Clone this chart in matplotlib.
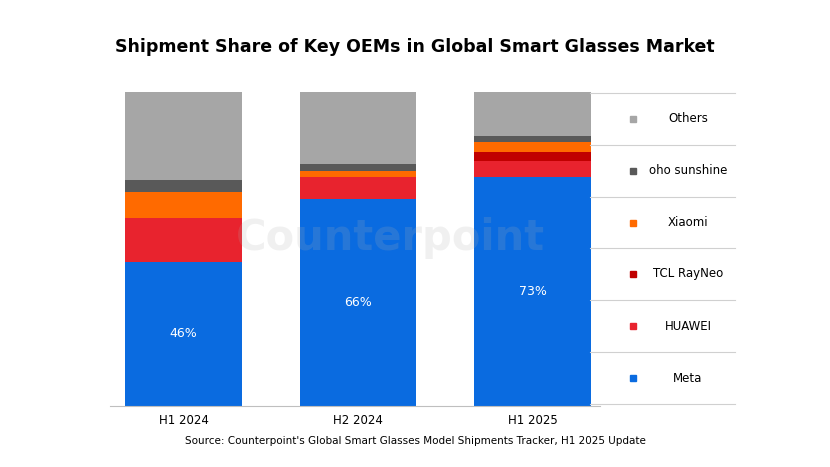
import matplotlib
matplotlib.use("Agg")
import matplotlib.pyplot as plt

periods = ["H1 2024", "H2 2024", "H1 2025"]
meta = [46, 66, 73]
huawei = [14, 7, 5]
tcl = [0, 0, 3]
xiaomi = [8, 2, 3]
oho = [4, 2, 2]
others = [28, 23, 14]

series = [("Meta", meta, "#0A6BE0"), ("HUAWEI", huawei, "#E8232E"),
          ("TCL RayNeo", tcl, "#C00000"), ("Xiaomi", xiaomi, "#FF6A00"),
          ("oho sunshine", oho, "#595959"), ("Others", others, "#A6A6A6")]

fig = plt.figure(figsize=(8.30, 4.67), dpi=100)
ax = fig.add_axes([110 / 830, 61 / 467, 490 / 830, 314 / 467])
x = range(len(periods))
bottom = [0] * 3
for name, vals, col in series:
    ax.bar(x, vals, bottom=bottom, width=0.67, color=col)
    bottom = [b + v for b, v in zip(bottom, vals)]
for i, v in enumerate(meta):
    ax.text(i, v / 2, f"{v}%", ha="center", va="center", color="white", fontsize=9)
ax.set_ylim(0, 100)
ax.set_xlim(-0.421, 2.387)
ax.set_xticks(list(x))
ax.set_xticklabels(periods, fontsize=8.5)
ax.set_yticks([])
for s in ["top", "left", "right"]:
    ax.spines[s].set_visible(False)
ax.spines["bottom"].set_color("#BFBFBF")
ax.tick_params(axis="x", length=0, pad=6)

fig.text(0.5, 0.9, "Shipment Share of Key OEMs in Global Smart Glasses Market",
         ha="center", va="center", fontsize=12.5, fontweight="bold")
fig.text(0.5, 0.055, "Source: Counterpoint's Global Smart Glasses Model Shipments Tracker, H1 2025 Update",
         ha="center", va="center", fontsize=7.5)
fig.text(0.47, 0.49, "Counterpoint", ha="center", va="center", fontsize=30,
         fontweight="bold", color="#B0B0B0", alpha=0.18)

# legend panel
lx0, lx1 = 590 / 830, 735 / 830
ys = [93, 145, 197, 248, 300, 352, 404]
for y in ys:
    fig.add_artist(plt.Line2D([lx0, lx1], [1 - y / 467] * 2, color="#D0D0D0", lw=0.8))
for i, (name, vals, col) in enumerate(reversed(series)):
    yc = 1 - (ys[i] + ys[i + 1]) / 2 / 467
    fig.add_artist(plt.Rectangle((630 / 830, yc - 3 / 467), 6 / 830, 6 / 467, color=col,
                                 transform=fig.transFigure))
    fig.text(688 / 830, yc, name, ha="center", va="center", fontsize=8.5)
fig.savefig("out.png", dpi=100)
